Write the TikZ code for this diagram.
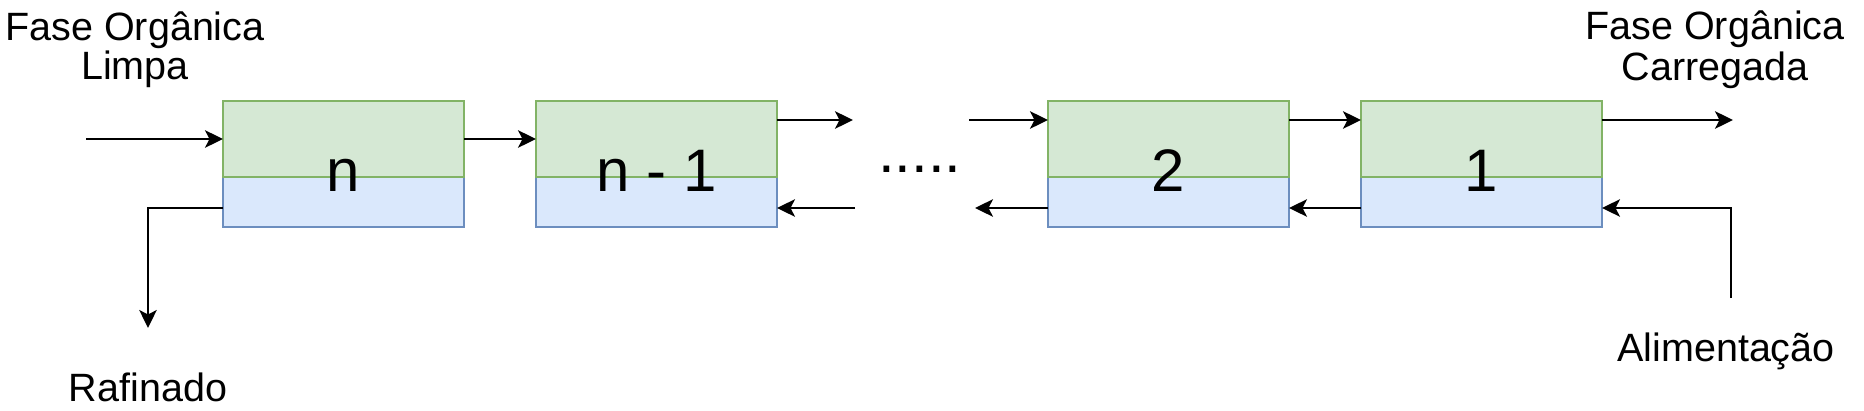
\documentclass[tikz,border=0pt]{standalone}
\usepackage{fontspec}
\setmainfont{Liberation Sans}
\usetikzlibrary{arrows.meta,calc}
\definecolor{gfill}{HTML}{D5E8D4}
\definecolor{gdraw}{HTML}{82B366}
\definecolor{bfill}{HTML}{DAE8FC}
\definecolor{bdraw}{HTML}{6C8EBF}
\begin{document}
\begin{tikzpicture}[x=1pt,y=-1pt,
  topbox/.style={draw=gdraw,fill=gfill,line width=2pt,minimum width=241pt,minimum height=76pt,inner sep=0pt,outer sep=0pt,anchor=north west},
  botbox/.style={draw=bdraw,fill=bfill,line width=2pt,minimum width=241pt,minimum height=50pt,inner sep=0pt,outer sep=0pt,anchor=north west},
  num/.style={font=\fontsize{60}{72}\selectfont,anchor=base,inner sep=0pt},
  lbl/.style={font=\fontsize{39.5}{47}\selectfont,anchor=base,inner sep=0pt},
  arr/.style={line width=2pt,-{Stealth[length=18pt,width=17.5pt,inset=4.5pt]}}]
\useasboundingbox (0,0) rectangle (1864,410);
\fill[white] (0,0) rectangle (1864,410);
% boxes
\node[botbox] (nB) at (223,177) {};
\node[topbox] (nG) at (223,101) {};
\node[botbox] (n1B) at (536,177) {};
\node[topbox] (n1G) at (536,101) {};
\node[botbox] (b2B) at (1048,177) {};
\node[topbox] (b2G) at (1048,101) {};
\node[botbox] (b1B) at (1361,177) {};
\node[topbox] (b1G) at (1361,101) {};
\node[num] (nL) at (343.5,191.7) {n};
\node[num] (n1L) at (656.5,191.7) {n - 1};
\node[num] (b2L) at (1168.5,191.7) {2};
\node[num] (b1L) at (1481.5,191.7) {1};
\node[num,anchor=base west] (dots) at (878,172) {.....};
% helper coordinates
\coordinate (up) at (0,120);
\coordinate (low) at (0,208);
\coordinate (inS) at (86,139);
\coordinate (n1out) at (853,120);
\coordinate (b2in) at (969,120);
\coordinate (b1out) at (1733,120);
\coordinate (fa) at (1731,298);
\coordinate (b2left) at (975,208);
\coordinate (n1in) at (855,208);
\coordinate (raf) at (148,328);
% top stream
\draw[arr] (inS) -- (nG.west);
\draw[arr] (nG.east) -- (n1G.west);
\draw[arr] (n1G.east |- up) -- (n1out);
\draw[arr] (b2in) -- (b2G.west |- up);
\draw[arr] (b2G.east |- up) -- (b1G.west |- up);
\draw[arr] (b1G.east |- up) -- (b1out);
% bottom stream
\draw[arr] (fa) |- (b1B.east |- low);
\draw[arr] (b1B.west |- low) -- (b2B.east |- low);
\draw[arr] (b2B.west |- low) -- (b2left);
\draw[arr] (n1in) -- (n1B.east |- low);
\draw[arr] (nB.west |- low) -| (raf);
% labels
\node[lbl] (fl1) at (135,40) {Fase Orgânica};
\node[lbl] (fl2) at (135,79.5) {Limpa};
\node[lbl] (fr1) at (1715,39.5) {Fase Orgânica};
\node[lbl] (fr2) at (1715,80) {Carregada};
\node[lbl] (ali) at (1726,361.5) {Alimentação};
\node[lbl] (rafL) at (148,401) {Rafinado};
\end{tikzpicture}
\end{document}
